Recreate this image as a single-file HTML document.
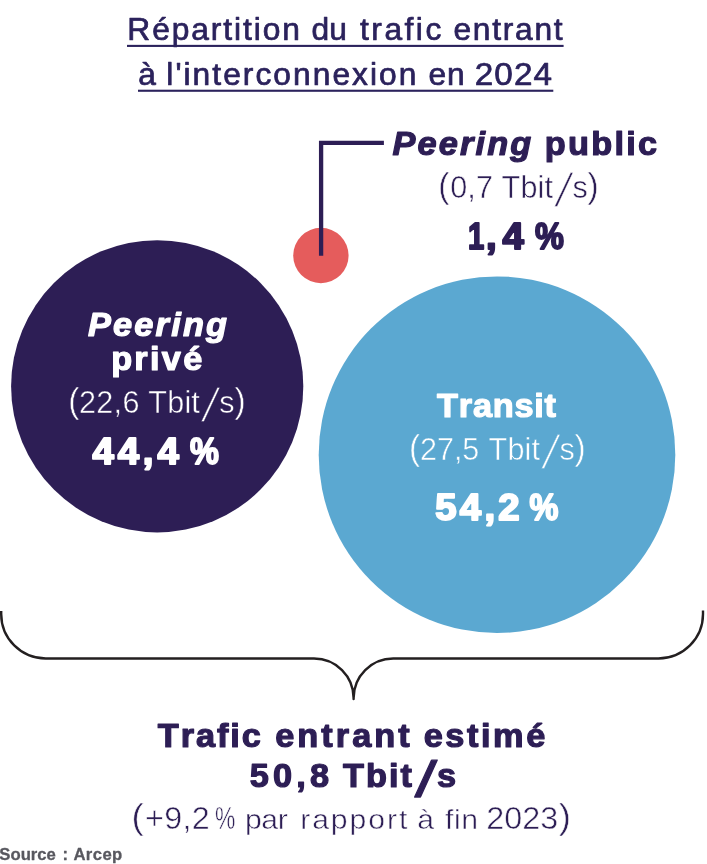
<!DOCTYPE html>
<html lang="fr">
<head>
<meta charset="utf-8">
<title>Répartition du trafic entrant à l'interconnexion en 2024</title>
<style>
  html, body { margin: 0; padding: 0; background: #ffffff; }
  body { width: 707px; height: 864px; overflow: hidden; position: relative; }
  svg { position: absolute; left: 0; top: 0; display: block; }
  text { font-family: "Liberation Sans", sans-serif; font-kerning: none; white-space: pre; }
</style>
</head>
<body>
<svg width="707" height="864" viewBox="0 0 707 864">
  <!-- bubbles -->
  <circle cx="157.2" cy="386.3" r="146.1" fill="#2d1e55"/>
  <circle cx="497" cy="454.7" r="178.3" fill="#5ba8d1"/>
  <circle cx="320.9" cy="255.5" r="27.7" fill="#e55c5c"/>
  <!-- leader line -->
  <path d="M321.1 255.7 V142.85 H383.9" fill="none" stroke="#2d1e55" stroke-width="4.3"/>
  <!-- brace -->
  <path d="M1.2 610.9 V614 A44.5 44.5 0 0 0 45.7 658.5 H314 A39.6 39.6 0 0 1 353.6 698.1 V699 V698.1 A39.6 39.6 0 0 1 393.2 658.5 H658.5 A44.5 44.5 0 0 0 703 614 V610.5" fill="none" stroke="#231f20" stroke-width="2.4" stroke-linejoin="round"/>
  <!-- title -->
  <g font-size="30.5" fill="#2b225c" stroke="#2b225c" stroke-width="0.7" stroke-linejoin="round"><text transform="scale(1.04,1)"><tspan x="122.45" y="39.69" style="letter-spacing:1.85px">Répartition</tspan> <tspan x="299.63" y="39.69" style="letter-spacing:-0.04px">du</tspan> <tspan x="346.22" y="39.69" style="letter-spacing:2.40px">trafic</tspan> <tspan x="436.06" y="39.69" style="letter-spacing:1.67px">entrant</tspan></text></g>
  <rect x="127" y="44.85" width="436.6" height="2.1" fill="#2b225c"/>
  <g font-size="30.5" fill="#2b225c" stroke="#2b225c" stroke-width="0.7" stroke-linejoin="round"><text transform="scale(1.04,1)"><tspan x="132.89" y="84.89">à</tspan> <tspan x="159.92" y="84.89" style="letter-spacing:1.97px">l'interconnexion</tspan> <tspan x="412.02" y="84.89" style="letter-spacing:0.89px">en</tspan> <tspan x="456.42" font-size="32" y="84.89" style="letter-spacing:1.09px">2024</tspan></text></g>
  <rect x="138" y="89.7" width="415.3" height="2.1" fill="#2b225c"/>
  <!-- peering public -->
  <g font-size="33" font-weight="700" font-style="italic" fill="#2d1e55" stroke="#2d1e55" stroke-width="1.2" stroke-linejoin="round"><text transform="scale(1.04,1)"><tspan x="377.30" y="155.16" style="letter-spacing:2.10px">Peering</tspan></text></g>
  <g font-size="33" font-weight="700" fill="#2d1e55" stroke="#2d1e55" stroke-width="1.2" stroke-linejoin="round"><text transform="scale(1.04,1)"><tspan x="523.79" y="155.16" style="letter-spacing:2.18px">public</tspan></text></g>
  <g font-size="31.5" fill="#2d1e55" stroke="#ffffff" stroke-width="0.5" stroke-linejoin="round"><text transform="scale(0.97,1)"><tspan x="451.84" font-size="34.5" y="198.22">(</tspan><tspan x="464.18" y="198.22" style="letter-spacing:0.13px">0,7</tspan> <tspan x="517.08" y="198.22" style="letter-spacing:0.20px">Tbit</tspan></text><text transform="translate(554.78,205.90) skewX(-16) scale(0.677,1)" font-size="46.16" stroke-width="0.5">/</text><text transform="scale(0.97,1)"><tspan x="590.19" y="198.22">s</tspan><tspan x="605.79" font-size="34.5" y="198.22">)</tspan></text></g>
  <g font-size="36.5" font-weight="700" fill="#2d1e55" stroke="#2d1e55" stroke-width="2.0" stroke-linejoin="round"><text transform="scale(0.8,1)"><tspan x="584.96" y="248.60">1</tspan></text><text transform="scale(1.05,1)"><tspan x="462.95" y="248.60" style="letter-spacing:5.38px">,4</tspan></text> <text transform="scale(0.89,1)"><tspan x="601.05" y="248.60">%</tspan></text></g>
  <!-- peering privé -->
  <g font-size="33" font-weight="700" font-style="italic" fill="#ffffff" stroke="#ffffff" stroke-width="1.2" stroke-linejoin="round"><text transform="scale(1.04,1)"><tspan x="84.52" y="336.36" style="letter-spacing:2.13px">Peering</tspan></text></g>
  <g font-size="33" font-weight="700" fill="#ffffff" stroke="#ffffff" stroke-width="1.2" stroke-linejoin="round"><text transform="scale(1.04,1)"><tspan x="106.86" y="369.86" style="letter-spacing:2.19px">privé</tspan></text></g>
  <g font-size="31.5" fill="#ffffff" stroke="#2d1e55" stroke-width="0.5" stroke-linejoin="round"><text transform="scale(0.97,1)"><tspan x="70.50" font-size="34.5" y="412.83">(</tspan><tspan x="81.35" y="412.83" style="letter-spacing:0.38px">22,6</tspan> <tspan x="152.95" y="412.83" style="letter-spacing:0.20px">Tbit</tspan></text><text transform="translate(201.58,420.50) skewX(-16) scale(0.677,1)" font-size="46.16" stroke-width="0.5">/</text><text transform="scale(0.97,1)"><tspan x="226.07" y="412.83">s</tspan><tspan x="241.67" font-size="34.5" y="412.83">)</tspan></text></g>
  <g font-size="36.5" font-weight="700" fill="#ffffff" stroke="#ffffff" stroke-width="2.0" stroke-linejoin="round"><text transform="scale(1.05,1)"><tspan x="88.02" y="463.90" style="letter-spacing:3.74px">44,4</tspan></text> <text transform="scale(0.89,1)"><tspan x="213.35" y="463.90">%</tspan></text></g>
  <!-- transit -->
  <g font-size="33" font-weight="700" fill="#ffffff" stroke="#ffffff" stroke-width="1.2" stroke-linejoin="round"><text transform="scale(1.04,1)"><tspan x="420.30" y="417.16" style="letter-spacing:0.73px">Transit</tspan></text></g>
  <g font-size="31.5" fill="#ffffff" stroke="#5ba8d1" stroke-width="0.5" stroke-linejoin="round"><text transform="scale(0.97,1)"><tspan x="421.74" font-size="34.5" y="460.12">(</tspan><tspan x="433.00" y="460.12" style="letter-spacing:-0.05px">27,5</tspan> <tspan x="503.67" y="460.12" style="letter-spacing:0.20px">Tbit</tspan></text><text transform="translate(541.78,467.80) skewX(-16) scale(0.677,1)" font-size="46.16" stroke-width="0.5">/</text><text transform="scale(0.97,1)"><tspan x="576.79" y="460.12">s</tspan><tspan x="592.39" font-size="34.5" y="460.12">)</tspan></text></g>
  <g font-size="36.5" font-weight="700" fill="#ffffff" stroke="#ffffff" stroke-width="2.0" stroke-linejoin="round"><text transform="scale(1.05,1)"><tspan x="414.59" y="519.90" style="letter-spacing:3.09px">54,2</tspan></text> <text transform="scale(0.89,1)"><tspan x="594.87" y="519.90">%</tspan></text></g>
  <!-- total -->
  <g font-size="33" font-weight="700" fill="#2d1e55" stroke="#2d1e55" stroke-width="1.2" stroke-linejoin="round"><text transform="scale(1.04,1)"><tspan x="151.74" y="747.26" style="letter-spacing:1.85px">Trafic</tspan> <tspan x="264.67" y="747.26" style="letter-spacing:2.92px">entrant</tspan> <tspan x="407.36" y="747.26" style="letter-spacing:2.49px">estimé</tspan></text></g>
  <g font-size="33" font-weight="700" fill="#2d1e55" stroke="#2d1e55" stroke-width="1.2" stroke-linejoin="round"><text transform="scale(1.04,1)"><tspan x="240.14" y="787.26" style="letter-spacing:4.04px">50,8</tspan> <tspan x="329.73" y="787.26" style="letter-spacing:1.99px">Tbit</tspan></text><text transform="translate(414.59,796.31) skewX(-15) scale(0.985,1)" font-size="49.55" stroke-width="1.4">/</text><text transform="scale(1.04,1)"><tspan x="420.30" y="787.26">s</tspan></text></g>
  <g font-size="28.5" fill="#2d1e55" stroke="#ffffff" stroke-width="0.5" stroke-linejoin="round"><text transform="scale(1.06,1)"><tspan x="124.18" font-size="34.5" y="829.43">(</tspan><tspan x="136.77" font-size="30.5" y="829.43" style="letter-spacing:0.28px">+9,2</tspan></text> <text transform="scale(0.75,1)"><tspan x="286.64" font-size="30.5" y="829.43">%</tspan></text> <text transform="scale(1.06,1)"><tspan x="231.04" y="829.43" style="letter-spacing:-0.34px">par</tspan> <tspan x="283.15" y="829.43" style="letter-spacing:1.83px">rapport</tspan> <tspan x="393.64" y="829.43">à</tspan> <tspan x="419.93" y="829.43" style="letter-spacing:0.46px">fin</tspan> <tspan x="458.70" font-size="30.5" y="829.43" style="letter-spacing:0.01px">2023</tspan><tspan x="527.21" font-size="34.5" y="829.43">)</tspan></text></g>
  <!-- source -->
  <g font-size="17.4" font-weight="700" fill="#58585f" stroke="#58585f" stroke-width="0.3" stroke-linejoin="round"><text transform="scale(0.96,1)"><tspan x="-0.66" y="859.57" style="letter-spacing:-0.04px">Source</tspan> <tspan x="65.07" y="859.57">:</tspan> <tspan x="76.49" y="859.57" style="letter-spacing:0.40px">Arcep</tspan></text></g>
</svg>
</body>
</html>
